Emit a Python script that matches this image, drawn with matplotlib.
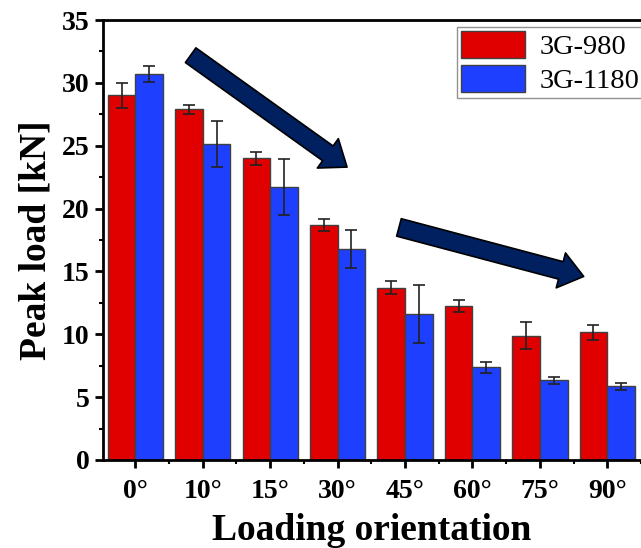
import matplotlib
matplotlib.use('Agg')
import matplotlib.pyplot as plt
import numpy as np
from matplotlib.ticker import MultipleLocator

# данные
orientations = ['0°', '10°', '15°', '30°', '45°', '60°', '75°', '90°']
load_980 = [29.0, 27.9, 24.0, 18.7, 13.7, 12.25, 9.9, 10.15]
err_980 = [1.0, 0.35, 0.5, 0.45, 0.5, 0.45, 1.1, 0.57]
load_1180 = [30.7, 25.15, 21.7, 16.8, 11.6, 7.37, 6.33, 5.85]
err_1180 = [0.65, 1.85, 2.25, 1.5, 2.3, 0.42, 0.3, 0.3]

plt.rcParams['font.family'] = ['Liberation Serif', 'DejaVu Serif']

fig = plt.figure(figsize=(6.41, 5.48), dpi=100)
ax = fig.add_axes([0.1607, 0.1606, 0.8393, 0.8029])

x = np.arange(len(orientations))
w = 0.41
err_kw = dict(ecolor='#222222', elinewidth=1.2, capsize=4, capthick=1.2)
ax.bar(x - w / 2, load_980, w, yerr=err_980, color='#e00000', edgecolor='#404040',
       linewidth=1.0, error_kw=err_kw, label='3G-980')
ax.bar(x + w / 2, load_1180, w, yerr=err_1180, color='#1f3fff', edgecolor='#404040',
       linewidth=1.0, error_kw=err_kw, label='3G-1180')

ax.set_xlim(-0.48, 7.40)
ax.set_ylim(0, 35)
ax.set_xticks(x)
ax.set_xticklabels(orientations, fontsize=20, fontweight='bold')
ax.set_xticks(x + 0.5, minor=True)
ax.yaxis.set_major_locator(MultipleLocator(5))
ax.yaxis.set_minor_locator(MultipleLocator(2.5))
for lab in ax.get_yticklabels():
    lab.set_fontsize(20)
    lab.set_fontweight('bold')
ax.tick_params(axis='both', which='major', direction='out', length=6, width=2)
ax.tick_params(axis='both', which='minor', direction='out', length=3, width=1.5)
ax.tick_params(axis='x', pad=8)

for side in ['left', 'bottom', 'top']:
    ax.spines[side].set_linewidth(2)
ax.spines['right'].set_visible(False)

ax.set_xlabel('Loading orientation', fontsize=27, fontweight='bold', labelpad=6)
ax.set_ylabel('Peak load [kN]', fontsize=27, fontweight='bold', labelpad=6)

leg = ax.legend(loc='upper left', bbox_to_anchor=(0.713, 0.951),
                bbox_transform=fig.transFigure, fontsize=20.5, frameon=True,
                fancybox=False, edgecolor='#777777', handlelength=2.25,
                handleheight=1.1, borderaxespad=0, borderpad=0.15,
                labelspacing=0.15, handletextpad=0.5)
leg.get_frame().set_linewidth(1.0)

# стрелки-тренды
arrow_style = 'simple,head_length=0.85,head_width=1.3,tail_width=0.65'
ax.annotate('', xy=(3.14, 23.3), xytext=(0.82, 32.2),
            arrowprops=dict(arrowstyle=arrow_style, mutation_scale=20,
                            fc='#002060', ec='black', lw=1.2, shrinkA=0, shrinkB=0))
ax.annotate('', xy=(6.65, 14.6), xytext=(3.91, 18.5),
            arrowprops=dict(arrowstyle=arrow_style, mutation_scale=20,
                            fc='#002060', ec='black', lw=1.2, shrinkA=0, shrinkB=0))

fig.savefig('out.png', dpi=100)
